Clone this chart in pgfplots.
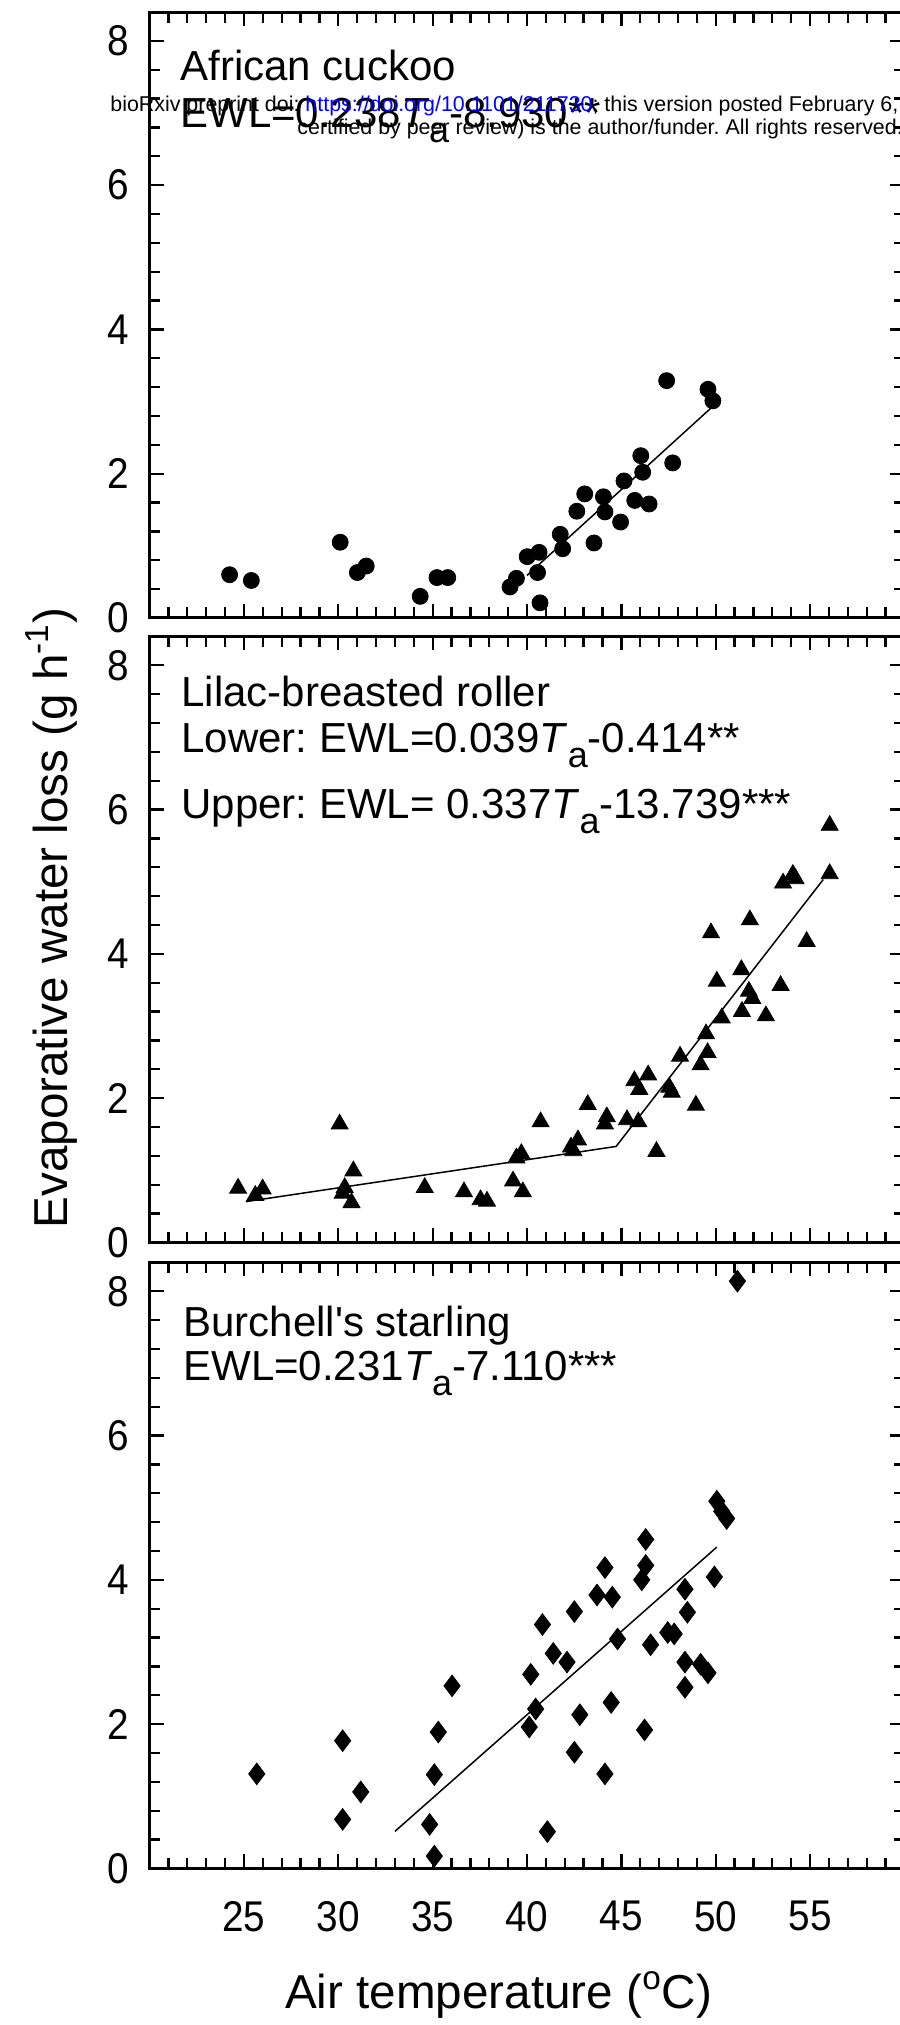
\documentclass[border=0pt]{standalone}
\usepackage{fontspec}
\setmainfont{Liberation Sans}[Ligatures=TeXOff]
\usepackage{pgfplots}
\pgfplotsset{compat=1.18}
\frenchspacing

\newcommand\sub[1]{\raisebox{-7.5pt}{\fontsize{18}{18}\selectfont #1}}

\pgfplotsset{
  panel/.style={
    scale only axis, width=377.4pt, height=303pt,
    xmin=20, xmax=60, ymin=0, ymax=8.4,
    xtick={25,30,...,55}, minor xtick={21,22,...,59},
    ytick={0,2,4,6,8}, minor ytick={0.4,0.8,1.2,1.6,2.4,2.8,3.2,3.6,4.4,4.8,5.2,5.6,6.4,6.8,7.2,7.6},
    tick align=inside, tick pos=both,
    xticklabel pos=lower, yticklabel pos=left,
    major tick length=7pt, minor tick length=5.3pt,
    tick style={black, line width=1.15pt},
    axis line style={line width=1.5pt},
    tick label style={font=\fontsize{21.5}{22}\selectfont, xscale=0.9},
    /pgf/number format/assume math mode=true,
    yticklabel style={inner sep=0pt, xshift=-11.3pt},
    xticklabel style={inner sep=0pt, yshift=-16.3pt},
    clip=false,
    anchor=south west,
  }
}

\begin{document}
\begin{tikzpicture}
\useasboundingbox (0,0) rectangle (450pt,1012.5pt);
\clip (0,0) rectangle (450pt,1012.5pt);

% Panel 1: African cuckoo
\begin{axis}[panel, at={(74.8pt,703.5pt)}, xticklabels={}]
\addplot[only marks, mark=*, mark size=4pt, mark options={fill=black, draw=black}] coordinates {
(24.24,0.60) (25.39,0.52) (30.10,1.05) (31.01,0.63) (31.48,0.72) (34.34,0.30) (35.23,0.56) (35.80,0.56)
(39.10,0.43) (39.44,0.55) (40.01,0.85) (40.64,0.91) (40.56,0.63) (40.69,0.21) (41.76,1.16) (41.89,0.96)
(42.64,1.48) (43.06,1.72) (43.55,1.04) (44.05,1.68) (44.13,1.47) (44.96,1.33) (45.14,1.90) (45.71,1.63)
(46.03,2.25) (46.13,2.02) (46.47,1.58) (47.40,3.29) (47.72,2.15) (49.59,3.17) (49.85,3.01)
};
\addplot[black, line width=0.75pt] coordinates {(40,0.59) (49.85,2.934)};
\end{axis}

% Panel 2: Lilac-breasted roller
\begin{axis}[panel, at={(74.8pt,391.3pt)}, xticklabels={}]
\addplot[only marks, mark=triangle*, mark size=4.9pt, mark options={fill=black, draw=black}] coordinates {
(24.69,0.75) (25.60,0.65) (25.99,0.74) (30.07,1.64) (30.34,0.76) (30.23,0.68) (30.80,0.99) (30.70,0.55)
(34.58,0.76) (36.66,0.70) (37.54,0.59) (37.88,0.57) (39.26,0.85) (39.78,0.70) (39.44,1.17) (39.70,1.23)
(40.72,1.67) (42.33,1.32) (42.46,1.27) (42.70,1.42) (43.22,1.91) (44.13,1.64) (44.23,1.74) (45.30,1.70)
(45.90,1.67) (46.86,1.26) (45.69,2.24) (45.95,2.12) (46.42,2.32) (47.54,2.15) (47.67,2.08) (48.11,2.58)
(48.95,1.90) (49.20,2.46) (49.57,2.63) (49.49,2.89) (49.75,4.29) (50.06,3.62) (50.32,3.11) (51.36,3.78)
(51.39,3.20) (51.76,3.48) (51.94,3.38) (51.81,4.47) (52.66,3.14) (53.44,3.56) (53.57,4.98) (54.09,5.10)
(54.23,5.04) (54.82,4.17) (56.04,5.78) (56.04,5.11)
};
\addplot[black, line width=0.75pt] coordinates {(25.1,0.565) (44.72,1.330) (55.7,5.03)};
\end{axis}

% Panel 3: Burchell's starling
\begin{axis}[panel, at={(74.8pt,78.3pt)}]
\addplot[only marks, mark=diamond*, mark size=5.4pt, mark options={fill=black, draw=black}] coordinates {
(25.68,1.31) (51.15,8.14) (30.23,1.77) (30.23,0.68) (31.19,1.06) (34.84,0.61) (35.09,0.17) (35.09,1.30)
(35.30,1.89) (36.03,2.53) (40.20,2.69) (40.12,1.96) (40.46,2.21) (40.82,3.38) (41.08,0.51) (41.39,2.98)
(42.12,2.86) (42.51,3.56) (42.51,1.61) (42.80,2.13) (43.71,3.79) (44.13,4.17) (44.52,3.76) (44.13,1.31)
(44.46,2.30) (44.80,3.18) (46.08,4.00) (46.29,4.56) (46.29,4.20) (46.23,1.92) (46.55,3.10) (47.46,3.27)
(47.80,3.25) (48.37,3.87) (48.50,3.55) (48.37,2.86) (48.37,2.51) (49.20,2.83) (49.59,2.71) (49.93,4.04)
(50.06,5.09) (50.32,4.95) (50.58,4.85)
};
\addplot[black, line width=0.75pt] coordinates {(33.0,0.513) (50.06,4.454)};
\end{axis}

\begin{scope}[x=0.5pt,y=-0.5pt,shift={(0pt,1012.5pt)}]
\tikzset{lab/.style={anchor=base west, inner sep=0pt, font=\fontsize{21}{21}\selectfont}}
\node[lab] at (180,81) {African cuckoo};
\node[lab] at (180,128) {EWL=0.238\textit{T}\sub{a}-8.930**};
\node[lab] at (181,707) {Lilac-breasted roller};
\node[lab] at (181,753) {Lower: EWL=0.039\textit{T}\sub{a}-0.414**};
\node[lab] at (181,819) {Upper: EWL= 0.337\textit{T}\sub{a}-13.739***};
\node[lab] at (183,1337) {Burchell's starling};
\node[lab] at (183,1381) {EWL=0.231\textit{T}\sub{a}-7.110***};
\node[anchor=base, inner sep=0pt, rotate=90, font=\fontsize{23.8}{24}\selectfont] at (67,918) {Evaporative water loss (g h\textsuperscript{-1})};
\node[anchor=base, inner sep=0pt, font=\fontsize{23.8}{24}\selectfont] at (498.6,2008) {Air temperature (\textsuperscript{o}C)};
% bioRxiv watermark
\node[anchor=base west, inner sep=0pt, font=\fontsize{10.7}{11}\selectfont] at (110,112) {bioRxiv preprint doi: \textcolor{blue}{https://doi.org/10.1101/211730}; this version posted February 6, 2018. The copyright holder for this preprint (which was not};
\node[anchor=base west, inner sep=0pt, font=\fontsize{10.7}{11}\selectfont] at (297,134.6) {certified by peer review) is the author/funder. All rights reserved. No reuse allowed without permission.};
\end{scope}
\end{tikzpicture}
\end{document}
